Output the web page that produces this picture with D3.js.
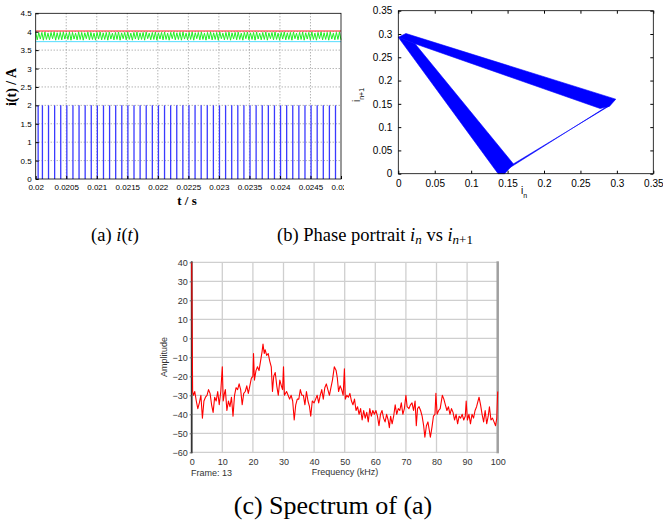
<!DOCTYPE html>
<html><head><meta charset="utf-8">
<script src="https://cdn.jsdelivr.net/npm/d3@7"></script>
<style>body{margin:0;background:#fff}svg{display:block}</style>
</head><body>
<svg id="chart" width="663" height="523"></svg>
<script>
// ---------- Panel (a): i(t) ----------
const aXTicks = [0.02,0.0205,0.021,0.0215,0.022,0.0225,0.023,0.0235,0.024,0.0245,0.025];
const aXTickLabels = ["0.02","0.0205","0.021","0.0215","0.022","0.0225","0.023","0.0235","0.024","0.0245","0.025"];
const aYTicks = [0,0.5,1,1.5,2,2.5,3,3.5,4,4.5];
const aYTickLabels = ["0","0.5","1","1.5","2","2.5","3","3.5","4","4.5"];
const redLevel = 4.02;
const cyanLevel = 3.73;
const spikeHeight = 2;
const spikeTimes = [0.02004,0.02011,0.02021,0.02031,0.02041,0.02051,0.02061,0.02071,0.02081,0.02091,
  0.02101,0.02111,0.02121,0.02131,0.02141,0.02151,0.02161,0.02171,0.02181,0.02191,
  0.02201,0.02211,0.02221,0.02231,0.02241,0.02251,0.02261,0.02271,0.02281,0.02291,
  0.02301,0.02311,0.02321,0.02331,0.02341,0.02351,0.02361,0.02371,0.02381,0.02391,
  0.02401,0.02411,0.02421,0.02431,0.02441,0.02451,0.02461,0.02471,0.02481,0.02491];
const greenVals = [
 3.99,3.78,3.97,3.80,3.98,3.77,3.99,3.79,3.96,3.78,3.98,3.81,3.99,3.77,3.97,3.79,3.98,3.78,3.99,3.80,
 3.97,3.79,3.99,3.77,3.98,3.80,3.96,3.78,3.99,3.79,3.98,3.77,3.97,3.81,3.99,3.78,3.98,3.79,3.96,3.77,
 3.98,3.80,3.99,3.78,3.97,3.79,3.98,3.77,3.99,3.80,3.96,3.78,3.98,3.79,3.99,3.77,3.97,3.81,3.98,3.78,
 3.99,3.79,3.96,3.77,3.98,3.80,3.99,3.78,3.97,3.79,3.98,3.77,3.99,3.81,3.96,3.78,3.98,3.79,3.99,3.77,
 3.97,3.80,3.98,3.78,3.99,3.79,3.96,3.77,3.98,3.81,3.99,3.78,3.97,3.79,3.98,3.77,3.99,3.80,3.96,3.78,
 3.98,3.79,3.99,3.77,3.97,3.81,3.98,3.78,3.99,3.79,3.96,3.77,3.98,3.80,3.99,3.78,3.97,3.79,3.98,3.77,
 3.99,3.81,3.96,3.78,3.98,3.79,3.99,3.77,3.97,3.80,3.98,3.78,3.99,3.79,3.96,3.77,3.98,3.81,3.99,3.78,
 3.97,3.79,3.98,3.77,3.99,3.80,3.96,3.78,3.98,3.79,3.99,3.77,3.97,3.81,3.98,3.78,3.99,3.79,3.96,3.77,
 3.98,3.80,3.99,3.78,3.97,3.79,3.98,3.77,3.99,3.81,3.96,3.78,3.98,3.79,3.99,3.77,3.97,3.80,3.98,3.78,
 3.99,3.79,3.96,3.77,3.98,3.81,3.99,3.78,3.97,3.79,3.98,3.77,3.99,3.80,3.96,3.78,3.98,3.79,3.99,3.78];

// ---------- Panel (b): phase portrait ----------
const bTicks = [0,0.05,0.1,0.15,0.2,0.25,0.3,0.35];
const bTickLabels = ["0","0.05","0.1","0.15","0.2","0.25","0.3","0.35"];
const phaseTopBand = [[0,0.293],[0.0105,0.301],[0.2985,0.160],[0.290,0.145],[0.277,0.140],[0.023,0.279]];
const phaseLeftBand = [[0,0.293],[0.023,0.279],[0.158,0.021],[0.146,0.0],[0.137,0.0]];
const phaseReturnBand = [[0.144,0.004],[0.158,0.021],[0.290,0.146],[0.283,0.141]];

// ---------- Panel (c): spectrum ----------
const cXTicks = [0,10,20,30,40,50,60,70,80,90,100];
const cYTicks = [-60,-50,-40,-30,-20,-10,0,10,20,30,40];
const specFreq = [0,0.3,0.6,1,1.5,2,2.5,3,3.5,4,4.5,5,5.5,6,6.5,7,7.5,8,8.5,9,9.5,10,10.3,10.7,11,11.5,12,12.5,13,13.5,14,14.5,15,15.5,16,16.5,17,17.5,18,18.5,19,19.5,20,20.2,20.5,21,21.5,22,22.5,23,23.3,23.7,24,24.5,25,25.5,26,26.4,26.8,27.3,27.8,28.3,28.8,29.3,29.7,30,30.3,31,31.5,32,32.5,33,33.5,34,34.5,35,35.5,36,36.5,37,37.5,38,38.5,38.9,39.4,40,40.5,41,41.5,42,42.5,43,43.5,44,44.5,45,45.5,46,46.6,47.2,47.6,48,48.5,49,49.5,49.9,50.2,50.7,51.2,51.7,52.2,52.7,53.2,53.7,54.2,54.7,55.2,55.7,56.2,56.7,57.2,57.7,58.2,58.7,59.2,59.7,60.2,60.7,61.2,61.7,62.2,62.7,63.2,63.7,64.2,64.6,65,65.5,66,66.5,67,67.5,68,68.5,69,69.5,70,70.4,71,71.5,72,72.5,73,73.4,73.8,74.3,74.8,75.3,75.8,76.2,76.7,77.2,77.6,78,78.5,79,79.5,79.8,80.2,80.7,81.2,81.9,82.4,82.9,83.4,83.9,84.4,84.9,85.4,85.9,86.4,86.9,87.4,87.9,88.4,88.9,89.4,89.7,90.1,90.6,91.1,91.6,92.1,92.6,93.1,93.9,94.4,94.9,95.4,95.9,96.4,96.9,97.3,97.8,98.3,98.8,99.3,99.7,100];
const specAmp = [40,-28,-30,-28,-33,-37,-34,-30,-42,-33,-31,-30,-27,-29,-35,-39,-31,-33,-28,-35,-28,-15,-33,-29,-27,-38,-33,-36,-31,-41,-30,-26,-27,-24,-27,-35,-29,-28,-25,-29,-25,-21,-20,-8,-22,-17,-15,-17,-12,-7,-3,-8,-6,-9,-8,-12,-15,-28,-20,-18,-25,-30,-22,-25,-27,-15,-30,-28,-30,-32,-30,-33,-43,-35,-32,-32,-27,-30,-30,-35,-28,-33,-36,-41,-33,-34,-32,-30,-34,-30,-27,-32,-26,-24,-27,-30,-26,-22,-15,-17,-21,-28,-25,-27,-30,-16,-32,-30,-31,-29,-33,-35,-32,-38,-36,-40,-37,-43,-38,-42,-39,-44,-37,-41,-38,-40,-38,-41,-46,-40,-38,-42,-44,-40,-43,-47,-41,-45,-41,-35,-40,-37,-38,-34,-40,-37,-30,-36,-37,-35,-34,-38,-33,-46,-37,-36,-38,-41,-46,-52,-46,-44,-48,-52,-47,-41,-40,-29,-40,-38,-37,-30,-32,-35,-38,-36,-40,-37,-39,-43,-40,-45,-41,-42,-40,-43,-41,-33,-43,-40,-45,-40,-42,-38,-36,-31,-35,-40,-44,-38,-45,-41,-36,-43,-42,-44,-46,-42,-28];

const svg = d3.select("#chart");
const SANS = "'Liberation Sans', Arial, sans-serif";
const SERIF = "'Liberation Serif', 'Times New Roman', serif";

// =============== Panel (a) ===============
(function(){
  const L=35.7, R=341, T=13.3, B=179;
  const x = d3.scaleLinear().domain([0.02,0.025]).range([L,R]);
  const y = d3.scaleLinear().domain([0,4.5]).range([B,T]);
  svg.append("defs").append("clipPath").attr("id","clipA").append("rect")
    .attr("x",0).attr("y",0).attr("width",344).attr("height",215);
  const g = svg.append("g").attr("clip-path","url(#clipA)");
  // grid
  g.append("g").selectAll("line").data(aXTicks.slice(1,-1)).join("line")
    .attr("x1",d=>x(d)).attr("x2",d=>x(d)).attr("y1",T).attr("y2",B)
    .attr("stroke","#777").attr("stroke-width",0.8).attr("stroke-dasharray","1,2");
  g.append("g").selectAll("line").data(aYTicks.slice(1,-1)).join("line")
    .attr("y1",d=>y(d)).attr("y2",d=>y(d)).attr("x1",L).attr("x2",R)
    .attr("stroke","#777").attr("stroke-width",0.8).attr("stroke-dasharray","1,2");
  // spikes
  g.append("g").selectAll("line").data(spikeTimes).join("line")
    .attr("x1",d=>x(d)).attr("x2",d=>x(d)).attr("y1",y(0)).attr("y2",y(spikeHeight))
    .attr("stroke","#3a3aff").attr("stroke-width",1.3);
  // cyan, green, red
  g.append("line").attr("x1",L).attr("x2",R).attr("y1",y(cyanLevel)).attr("y2",y(cyanLevel))
    .attr("stroke","#55dcff").attr("stroke-width",1);
  const gx = d3.scaleLinear().domain([0,greenVals.length-1]).range([0.02,0.025]);
  g.append("path").datum(greenVals)
    .attr("d", d3.line().x((d,i)=>x(gx(i))).y(d=>y(d)))
    .attr("fill","none").attr("stroke","#22ee22").attr("stroke-width",1);
  g.append("line").attr("x1",L).attr("x2",R).attr("y1",y(redLevel)).attr("y2",y(redLevel))
    .attr("stroke","#ff2020").attr("stroke-width",1.1);
  // box
  g.append("rect").attr("x",L).attr("y",T).attr("width",R-L).attr("height",B-T)
    .attr("fill","none").attr("stroke","#000").attr("stroke-width",0.8);
  // ticks
  const ax = g.append("g").attr("transform",`translate(0,${B})`)
    .call(d3.axisBottom(x).tickValues(aXTicks).tickFormat((d,i)=>aXTickLabels[i]).tickSizeInner(-3).tickSizeOuter(0).tickPadding(5));
  ax.select(".domain").remove();
  ax.selectAll("text").attr("font-family",SANS).attr("font-size",8).attr("fill","#000");
  const ay = g.append("g").attr("transform",`translate(${L},0)`)
    .call(d3.axisLeft(y).tickValues(aYTicks).tickFormat((d,i)=>aYTickLabels[i]).tickSizeInner(-3).tickSizeOuter(0).tickPadding(4));
  ay.select(".domain").remove();
  ay.selectAll("text").attr("font-family",SANS).attr("font-size",8).attr("fill","#000");
  // labels
  svg.append("text").attr("transform","translate(16,87) rotate(-90)").attr("text-anchor","middle")
    .attr("font-family",SERIF).attr("font-weight","bold").attr("font-size",14).text("i(t) / A");
  svg.append("text").attr("x",187).attr("y",205).attr("text-anchor","middle")
    .attr("font-family",SERIF).attr("font-weight","bold").attr("font-size",13).text("t / s");
})();

// =============== Panel (b) ===============
(function(){
  const L=398.3, R=653.3, T=10.7, B=173.7;
  const x = d3.scaleLinear().domain([0,0.35]).range([L,R]);
  const y = d3.scaleLinear().domain([0,0.35]).range([B,T]);
  const line = d3.line().x(d=>x(d[0])).y(d=>y(d[1]));
  [phaseTopBand, phaseLeftBand, phaseReturnBand].forEach(p=>{
    svg.append("path").attr("d", line(p)+"Z").attr("fill","#0000ff").attr("stroke","#0000ff").attr("stroke-width",0.6);
  });
  svg.append("rect").attr("x",L).attr("y",T).attr("width",R-L).attr("height",B-T)
    .attr("fill","none").attr("stroke","#000").attr("stroke-width",0.8);
  const ax = svg.append("g").attr("transform",`translate(0,${B})`)
    .call(d3.axisBottom(x).tickValues(bTicks).tickFormat((d,i)=>bTickLabels[i]).tickSizeInner(-3).tickSizeOuter(0).tickPadding(6));
  ax.select(".domain").remove();
  ax.selectAll("text").attr("font-family",SANS).attr("font-size",10).attr("fill","#000");
  const axT = svg.append("g").attr("transform",`translate(0,${T})`)
    .call(d3.axisTop(x).tickValues(bTicks).tickFormat("").tickSizeInner(-3).tickSizeOuter(0));
  axT.select(".domain").remove();
  const ay = svg.append("g").attr("transform",`translate(${L},0)`)
    .call(d3.axisLeft(y).tickValues(bTicks).tickFormat((d,i)=>bTickLabels[i]).tickSizeInner(-3).tickSizeOuter(0).tickPadding(6));
  ay.select(".domain").remove();
  ay.selectAll("text").attr("font-family",SANS).attr("font-size",10).attr("fill","#000");
  const ayR = svg.append("g").attr("transform",`translate(${R},0)`)
    .call(d3.axisRight(y).tickValues(bTicks).tickFormat("").tickSizeInner(-3).tickSizeOuter(0));
  ayR.select(".domain").remove();
  // labels
  const xl = svg.append("text").attr("x",521).attr("y",194).attr("font-family",SANS).attr("font-size",10);
  xl.append("tspan").text("i");
  xl.append("tspan").attr("dy",4).attr("font-size",7).text("n");
  const yl = svg.append("text").attr("transform","translate(360,95) rotate(-90)").attr("text-anchor","middle")
    .attr("font-family",SANS).attr("font-size",10);
  yl.append("tspan").text("i");
  yl.append("tspan").attr("dy",4).attr("font-size",7).text("n+1");
})();

// =============== Panel (c) ===============
(function(){
  const L=191.7, R=497.7, T=262.3, B=452.3;
  const x = d3.scaleLinear().domain([0,100]).range([L,R]);
  const y = d3.scaleLinear().domain([-60,40]).range([B,T]);
  svg.append("g").selectAll("line").data(cXTicks.slice(1)).join("line")
    .attr("x1",d=>x(d)).attr("x2",d=>x(d)).attr("y1",T).attr("y2",B)
    .attr("stroke","#cfcfcf").attr("stroke-width",1.3);
  svg.append("g").selectAll("line").data(cYTicks).join("line")
    .attr("y1",d=>y(d)).attr("y2",d=>y(d)).attr("x1",L).attr("x2",R)
    .attr("stroke","#cfcfcf").attr("stroke-width",1.3);
  // right border
  svg.append("line").attr("x1",R).attr("x2",R).attr("y1",T-1).attr("y2",B+1)
    .attr("stroke","#a0a0a0").attr("stroke-width",2.5);
  // left axis
  svg.append("line").attr("x1",L).attr("x2",L).attr("y1",T-1).attr("y2",B+1)
    .attr("stroke","#333").attr("stroke-width",1.8);
  // spectrum
  const pts = specFreq.map((f,i)=>[f,specAmp[i]]);
  svg.append("path").datum(pts)
    .attr("d", d3.line().x(d=>x(d[0])).y(d=>y(d[1])))
    .attr("fill","none").attr("stroke","#ff0000").attr("stroke-width",1.1).attr("stroke-linejoin","round");
  const ay = svg.append("g").attr("transform",`translate(${L},0)`)
    .call(d3.axisLeft(y).tickValues(cYTicks).tickSizeInner(2).tickSizeOuter(0).tickPadding(2));
  ay.select(".domain").remove();
  ay.selectAll("line").attr("stroke","#666");
  ay.selectAll("text").attr("font-family",SANS).attr("font-size",9).attr("fill","#333");
  const ax = svg.append("g").attr("transform",`translate(0,${B})`)
    .call(d3.axisBottom(x).tickValues(cXTicks).tickSize(0).tickPadding(6));
  ax.select(".domain").remove();
  ax.selectAll("text").attr("font-family",SANS).attr("font-size",9).attr("fill","#333");
  svg.append("text").attr("transform","translate(167,357) rotate(-90)").attr("text-anchor","middle")
    .attr("font-family",SANS).attr("font-size",9).attr("fill","#333").text("Amplitude");
  svg.append("text").attr("x",345).attr("y",475).attr("text-anchor","middle")
    .attr("font-family",SANS).attr("font-size",9).attr("fill","#333").text("Frequency (kHz)");
  svg.append("text").attr("x",191).attr("y",476)
    .attr("font-family",SANS).attr("font-size",9).attr("fill","#333").text("Frame: 13");
})();

// =============== Captions ===============
(function(){
  const ca = svg.append("text").attr("x",115).attr("y",241).attr("text-anchor","middle")
    .attr("font-family",SERIF).attr("font-size",18.5);
  ca.append("tspan").text("(a) ");
  ca.append("tspan").attr("font-style","italic").text("i");
  ca.append("tspan").text("(");
  ca.append("tspan").attr("font-style","italic").text("t");
  ca.append("tspan").text(")");
  const cb = svg.append("text").attr("x",375).attr("y",241).attr("text-anchor","middle")
    .attr("font-family",SERIF).attr("font-size",18.5);
  cb.append("tspan").text("(b) Phase portrait ");
  cb.append("tspan").attr("font-style","italic").text("i");
  cb.append("tspan").attr("font-style","italic").attr("font-size",13).attr("dy",3).text("n");
  cb.append("tspan").attr("dy",-3).text(" vs ");
  cb.append("tspan").attr("font-style","italic").text("i");
  const sub = cb.append("tspan").attr("font-size",13).attr("dy",3);
  sub.append("tspan").attr("font-style","italic").text("n");
  sub.append("tspan").text("+1");
  const cc = svg.append("text").attr("x",333).attr("y",514).attr("text-anchor","middle")
    .attr("font-family",SERIF).attr("font-size",26);
  cc.text("(c) Spectrum of (a)");
})();
</script>
</body></html>
